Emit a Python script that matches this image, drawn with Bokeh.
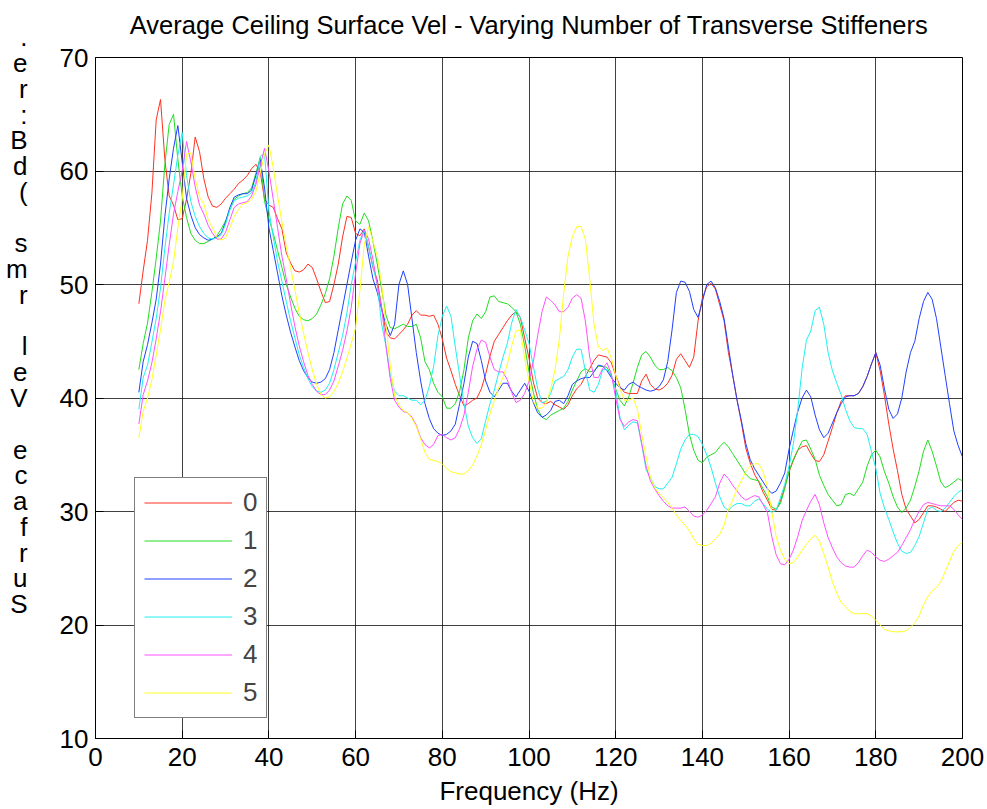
from bokeh.plotting import figure
from bokeh.models import Range1d, FixedTicker
from bokeh.embed import file_html
from bokeh.resources import INLINE

freq = list(range(10, 201))

# 0 stiffeners (red)
v0 = [48.3, 51.2, 53.9, 58.0, 64.5, 66.3, 61.0, 57.8, 57.0, 55.7,
      55.8, 57.5, 59.8, 63.0, 61.7, 59.3, 57.7, 56.9, 56.8, 57.1,
      57.6, 58.0, 58.4, 58.9, 59.2, 59.6, 60.2, 60.6, 59.9, 57.5,
      57.0, 56.8, 55.8, 54.9, 52.8, 51.9, 51.2, 51.1, 51.3, 51.8,
      51.5, 50.5, 49.4, 48.4, 48.5, 50.0, 51.8, 54.2, 56.0, 55.9,
      54.5, 54.3, 54.9, 53.3, 51.5, 50.4, 48.0, 45.8, 45.3, 45.2,
      45.6, 46.0, 46.5, 47.3, 47.7, 47.3, 47.3, 47.2, 47.3, 46.5,
      45.2, 43.5, 42.4, 41.2, 40.2, 39.3, 39.5, 39.8, 40.0, 40.8,
      42.1, 43.7, 45.0, 45.6, 46.2, 46.8, 47.3, 47.6, 47.1, 45.3,
      43.5, 41.4, 40.0, 39.6, 39.5, 39.7, 39.4, 39.2, 39.0, 39.4,
      40.2, 40.8, 41.2, 41.9, 42.6, 43.3, 43.8, 43.7, 43.6, 43.1,
      42.0, 41.0, 40.5, 40.4, 40.4, 40.4, 41.5, 42.1, 41.2, 40.8,
      40.7, 40.9, 41.3, 42.0, 43.4, 43.9, 43.3, 42.7, 43.6, 46.8,
      48.8, 49.8, 50.1, 49.6, 48.2, 46.8, 44.0, 42.0, 39.8, 37.8,
      35.6, 34.3, 33.3, 32.6, 31.7, 31.0, 30.2, 30.1, 30.9, 32.2,
      33.5, 34.5, 35.4, 35.7, 35.8, 35.1, 34.5, 34.4, 35.0, 36.2,
      37.4, 38.7, 39.7, 40.2, 40.2, 40.2, 40.4, 41.0, 41.9, 43.0,
      44.0, 42.4, 40.2, 37.7, 35.5, 33.6, 31.5, 30.2, 29.6, 29.0,
      29.3, 29.9, 30.5, 30.5, 30.4, 30.2, 30.0, 30.4, 30.8, 31.0,
      30.9]

# 1 stiffener (green)
v1 = [42.5, 44.8, 46.6, 49.3, 52.3, 55.6, 60.6, 64.1, 65.0, 61.0,
      57.8, 55.9, 54.5, 53.9, 53.6, 53.6, 53.8, 54.0, 54.3, 54.9,
      55.6, 56.6, 57.5, 57.8, 58.0, 58.1, 58.5, 59.8, 61.2, 57.3,
      55.8, 54.5, 53.0, 51.5, 50.0, 48.9, 47.9, 47.2, 46.9, 46.8,
      47.0, 47.4, 48.2, 49.2, 50.5, 52.5, 55.0, 57.1, 57.8, 57.4,
      55.6, 55.3, 56.3, 55.6, 53.8, 51.8, 49.6, 47.3, 46.2, 46.1,
      46.3, 46.5, 46.3, 46.3, 46.5, 45.3, 43.2, 42.5, 41.3, 40.5,
      40.1, 39.1, 39.1, 39.5, 40.6, 42.5, 45.3, 46.8, 47.4, 47.0,
      47.6, 48.9, 49.0, 48.5, 48.4, 48.3, 48.0, 47.6, 46.5, 44.6,
      42.3, 40.5, 39.0, 38.3, 38.1, 38.5, 38.7, 38.9, 39.1, 39.7,
      40.7, 41.5, 42.3, 42.6, 42.3, 42.4, 42.8, 42.8, 42.7, 41.9,
      40.8, 39.8, 39.3, 40.1, 41.3, 42.7, 43.8, 44.1, 43.6, 42.9,
      42.5, 42.5, 42.7, 42.4, 41.8, 40.9, 39.0, 36.8, 35.4, 34.5,
      34.3, 34.8, 35.0, 35.2, 35.7, 36.1, 35.7, 35.1, 34.5, 33.9,
      33.3, 32.9, 32.8, 32.7, 32.0, 31.3, 30.4, 30.2, 30.7, 32.0,
      33.6, 34.6, 35.4, 36.2, 36.3, 35.5, 34.6, 33.2, 32.3, 31.5,
      31.0, 30.5, 30.6, 31.5, 31.6, 31.4, 32.0, 32.6, 34.0, 35.0,
      35.4, 34.8, 33.5, 32.5, 31.3, 30.4, 29.9, 30.3, 31.0, 32.2,
      33.6, 35.3, 36.3, 35.3, 34.0, 32.6, 32.1, 32.3, 32.6, 32.9,
      32.7]

# 2 stiffeners (blue)
v2 = [40.5, 43.2, 44.7, 46.6, 48.7, 51.8, 56.0, 59.3, 62.0, 64.0,
      60.8, 57.6, 56.1, 55.0, 54.4, 54.1, 53.9, 54.0, 54.2, 54.5,
      55.5, 56.8, 57.7, 57.9, 58.0, 58.0, 58.3, 59.6, 61.0, 58.5,
      55.0, 53.0, 51.0, 49.0, 47.3, 45.8, 44.5, 43.3, 42.4, 41.8,
      41.4, 41.3, 41.4, 41.7, 42.5, 44.0, 46.0, 48.0, 50.0, 52.0,
      53.9, 54.9, 54.6, 52.5, 50.5, 49.3, 47.8, 46.5, 45.5, 46.5,
      50.0, 51.2, 50.0, 47.0, 44.0, 41.5, 39.5, 38.2, 37.3, 36.9,
      36.7, 36.8, 37.1, 37.7, 39.5, 41.3, 43.6, 45.0, 44.8, 43.3,
      41.5, 40.5, 40.1, 40.7, 41.3, 41.3, 40.6, 40.1, 40.7, 41.3,
      40.6, 39.6, 38.7, 38.3, 38.5, 38.9, 39.7, 39.8, 39.5, 40.2,
      41.2, 41.5, 41.7, 41.8, 41.8, 42.3, 42.9, 42.8, 42.4, 41.8,
      41.3, 40.9, 40.7, 41.2, 41.4, 41.1, 40.9, 40.7, 40.6, 40.7,
      41.0, 41.6, 43.2, 46.0, 49.3, 50.3, 50.2, 49.4, 47.8, 47.1,
      48.5, 50.0, 50.3, 49.7, 48.5, 47.0, 44.5, 42.0, 39.8, 38.0,
      36.0, 34.6, 33.8, 33.2, 32.6, 32.0, 31.6, 31.8, 32.5, 33.4,
      35.5, 37.2, 38.8, 40.0, 40.7, 40.1, 38.5, 37.2, 36.5, 36.9,
      37.8, 38.7, 39.5, 40.1, 40.2, 40.2, 40.4, 41.0, 41.9, 43.0,
      44.0, 42.9, 40.8, 39.0, 38.2, 38.6, 40.0, 42.3, 44.0, 45.0,
      47.0, 48.5, 49.3, 48.7, 47.0, 44.5, 42.0, 39.5, 37.1, 35.8,
      34.8]

# 3 stiffeners (cyan)
v3 = [39.0, 41.8, 42.9, 44.9, 47.0, 49.7, 53.2, 56.3, 58.8, 61.4,
      63.4, 59.6, 57.3, 56.0, 55.1, 54.5, 54.1, 54.0, 54.1, 54.4,
      55.3, 56.6, 57.4, 57.6, 57.7, 57.8, 58.1, 59.0, 61.3, 61.5,
      56.5, 54.2, 52.0, 50.3, 48.5, 46.8, 45.3, 43.8, 42.7, 41.7,
      41.0, 40.6, 40.5, 40.7, 41.3, 42.5, 44.0, 45.5, 47.5, 50.0,
      52.0, 53.9, 54.8, 53.3, 51.6, 50.0, 46.5, 44.6, 42.0, 40.6,
      40.2, 40.2, 40.0, 39.8, 39.8, 39.4, 39.8, 41.0, 42.8, 45.5,
      47.2, 48.1, 47.2, 44.5, 42.0, 39.5, 37.5, 36.5, 36.0, 36.4,
      38.0, 39.5, 40.7, 42.2, 43.6, 44.8, 46.6, 47.8, 47.1, 46.0,
      44.8, 42.8, 40.8, 39.6, 39.7, 40.4, 41.5, 41.7, 41.9, 42.5,
      43.6, 44.3, 44.3, 42.4, 40.7, 40.5, 41.2, 42.5, 42.5, 42.0,
      40.7, 38.3, 37.2, 37.6, 37.9, 37.8, 35.9, 33.7, 33.0, 32.2,
      32.0, 32.0, 32.5, 33.0, 34.2, 35.5, 36.3, 36.8, 36.8, 36.6,
      35.9, 35.0, 33.9, 32.5, 31.3, 30.4, 30.1, 30.5, 30.7, 30.7,
      30.5, 30.5, 30.9, 31.1, 30.7, 30.2, 29.9, 30.1, 31.2, 32.4,
      34.0, 36.0, 39.0, 42.6, 45.1, 45.9, 47.7, 48.0, 46.5, 44.0,
      42.4, 41.3, 40.3, 39.0, 38.0, 37.4, 37.3, 37.3, 36.8, 35.3,
      33.8, 31.6, 30.3, 29.3, 28.2, 27.2, 26.5, 26.3, 26.4, 27.0,
      27.8, 29.0, 30.2, 30.4, 30.1, 30.0, 30.3, 30.8, 31.3, 31.7,
      31.9]

# 4 stiffeners (magenta)
v4 = [37.7, 40.3, 41.5, 43.1, 45.2, 47.6, 50.5, 53.5, 56.2, 58.2,
      60.0, 62.6, 60.8, 58.6, 57.0, 56.2, 55.2, 54.5, 54.0, 54.0,
      54.6, 55.7, 56.8, 57.1, 57.2, 57.3, 57.8, 58.8, 60.5, 62.0,
      60.0, 57.5, 55.0, 52.5, 50.5, 48.3, 46.3, 44.6, 43.2, 42.0,
      41.2, 40.6, 40.3, 40.3, 40.7, 41.5, 42.8, 44.2, 45.9, 48.0,
      51.0, 53.6, 54.8, 54.0, 52.2, 50.0, 48.0, 44.6, 41.7, 39.8,
      39.2, 38.8, 38.7, 38.3, 37.6, 36.5, 35.9, 35.6, 35.9, 36.7,
      36.8, 36.5, 36.3, 36.5, 37.3, 38.5, 40.5, 42.8, 44.3, 45.1,
      44.9, 43.6, 42.5, 42.3, 42.3, 41.6, 40.5, 39.6, 39.8, 40.4,
      41.5, 43.2, 45.5, 47.6, 48.9, 48.6, 48.2, 47.6, 47.6, 48.0,
      48.8, 49.1, 48.8, 46.8, 43.6, 41.8, 41.8, 42.6, 43.1, 42.1,
      40.0, 38.1, 37.5, 37.9, 38.1, 38.0, 36.0, 34.0, 32.7, 32.0,
      31.4, 30.9, 30.5, 30.3, 30.3, 30.3, 30.4, 30.0, 29.6, 29.5,
      29.7, 30.1, 30.7, 31.3, 32.5, 33.3, 32.9, 32.3, 31.8, 31.3,
      31.0, 31.2, 31.4, 31.3, 30.6, 29.9, 27.8, 26.2, 25.4, 25.3,
      25.8, 26.6, 27.8, 29.2, 30.1, 30.9, 31.5, 30.6, 29.0, 27.7,
      26.8, 26.0, 25.5, 25.2, 25.1, 25.1, 25.5, 26.1, 26.6, 26.4,
      26.0, 25.7, 25.6, 25.8, 26.1, 26.4, 27.0, 27.7, 28.4, 29.3,
      30.0, 30.6, 30.8, 30.7, 30.6, 30.5, 30.5, 30.5, 30.2, 29.7,
      29.3]

# 5 stiffeners (yellow)
v5 = [36.5, 38.8, 40.0, 41.6, 43.8, 46.0, 48.6, 50.2, 52.0, 55.0,
      57.6, 61.5, 61.6, 59.3, 57.7, 57.1, 55.7, 55.0, 54.2, 53.9,
      54.1, 55.0, 56.0, 56.6, 57.1, 57.2, 57.5, 58.2, 59.8, 61.5,
      62.3, 60.3, 57.8, 55.5, 53.3, 51.5, 49.5, 47.5, 45.7, 44.0,
      42.5, 41.2, 40.3, 40.0, 40.1, 40.6, 41.3, 42.3, 43.5, 44.8,
      46.2, 49.5, 53.5, 55.1, 53.8, 52.5, 50.0, 46.5, 42.8, 40.2,
      39.4, 38.9, 38.7, 38.2, 37.5, 36.4, 35.2, 34.6, 34.5, 34.4,
      34.2, 33.8, 33.5, 33.4, 33.3, 33.3, 33.6, 34.1, 34.9, 35.9,
      37.2, 38.6, 39.8, 40.9, 41.8, 43.0, 44.6, 45.9, 46.0, 43.5,
      41.5, 39.7, 39.1, 39.1, 39.6, 40.8, 42.5, 45.2, 49.2, 52.5,
      54.2, 55.1, 55.1, 54.0, 50.5, 46.5, 44.5, 44.2, 44.4, 43.5,
      42.0, 40.8, 39.8, 39.8, 40.0, 39.0, 36.8, 34.8, 33.0, 32.1,
      31.6, 31.2, 30.8, 30.3, 29.7, 29.2, 28.8, 28.3, 27.6, 27.1,
      27.0, 27.0, 27.2, 27.6, 28.0, 28.8, 30.2, 31.0, 32.0, 32.7,
      33.5, 34.0, 34.2, 34.2, 33.5, 32.2, 30.0, 27.8, 26.6, 25.8,
      25.4, 25.5, 26.0, 26.6, 27.1, 27.6, 27.9, 27.4, 26.3, 25.1,
      23.8, 22.8, 22.0, 21.6, 21.2, 21.0, 21.0, 21.0, 21.0, 20.8,
      20.4, 20.0, 19.6, 19.5, 19.4, 19.4, 19.4, 19.5, 19.8, 20.2,
      20.8, 21.8, 22.5, 23.0, 23.3, 23.8, 24.7, 25.6, 26.5, 27.0,
      27.3]

series = [v0, v1, v2, v3, v4, v5]
series_names = ["0", "1", "2", "3", "4", "5"]
colors = ["#ff3020", "#20dd20", "#2040ff", "#20f0f0", "#ff50ff", "#ffff20"]

x_ticks = list(range(0, 201, 20))
y_ticks = list(range(10, 71, 10))
title_text = "Average Ceiling Surface Vel - Varying Number of Transverse Stiffeners"
xlabel_text = "Frequency (Hz)"
ylabel_text = "Surface Vel rms (dB:re."   # shown reversed & stacked, as in the original

FONT = "Liberation Sans"
SHIFT = 8  # canvas is drawn SHIFT px taller and pulled up by a negative top margin

p = figure(width=987, height=809 + SHIFT, output_backend="svg", toolbar_location=None,
           x_range=Range1d(0, 200), y_range=Range1d(10, 70),
           min_border_left=95, min_border_right=25, min_border_top=57 + SHIFT,
           min_border_bottom=71,
           background_fill_color="white", border_fill_color="white")
try:
    p.margin = (-SHIFT, 0, 0, 0)
except Exception:
    pass

p.outline_line_color = "black"
p.outline_line_width = 1
p.outline_line_alpha = 1

# title
p.title.text = title_text
p.title.align = "center"
p.title.vertical_align = "top"
p.title.text_font = FONT
p.title.text_font_size = "25.5px"
p.title.text_font_style = "normal"
p.title.text_color = "black"
p.title.standoff = 33

for ax in (p.xaxis[0], p.yaxis[0]):
    ax.axis_line_color = "black"
    ax.major_tick_line_color = "black"
    ax.major_tick_in = 8
    ax.major_tick_out = 0
    ax.minor_tick_line_color = None
    ax.major_label_text_font = FONT
    ax.major_label_text_font_size = "26px"
    ax.major_label_text_color = "black"

p.xaxis.ticker = FixedTicker(ticks=x_ticks)
p.yaxis.ticker = FixedTicker(ticks=y_ticks)
p.xaxis.major_label_standoff = 9
p.yaxis.major_label_standoff = 7

p.xaxis.axis_label = xlabel_text
p.xaxis.axis_label_text_font = FONT
p.xaxis.axis_label_text_font_size = "26px"
p.xaxis.axis_label_text_font_style = "normal"
p.xaxis.axis_label_text_color = "black"
p.xaxis.axis_label_standoff = 7

# y label: characters reversed and stacked vertically (as in the reference)
ychars = [c if c != " " else "" for c in reversed(ylabel_text)]
p.yaxis.axis_label = "\n".join(ychars + [""] * 6)
p.yaxis.axis_label_orientation = "horizontal"
p.yaxis.axis_label_text_font = FONT
p.yaxis.axis_label_text_font_size = "26px"
p.yaxis.axis_label_text_font_style = "normal"
p.yaxis.axis_label_text_color = "black"
p.yaxis.axis_label_text_line_height = 0.859
p.yaxis.axis_label_text_align = "center"
p.yaxis.axis_label_standoff = 29

p.xgrid.grid_line_color = "black"
p.ygrid.grid_line_color = "black"
p.xgrid.grid_line_alpha = 0.75
p.ygrid.grid_line_alpha = 0.75

for vals, name, col in zip(series, series_names, colors):
    p.line(freq, vals, line_color=col, line_width=1, legend_label=name)

lg = p.legend[0]
lg.location = (39, 20)
lg.border_line_color = "black"
lg.border_line_width = 1
lg.background_fill_alpha = 1
lg.padding = 9
lg.spacing = 7
lg.margin = 0
lg.glyph_width = 88
lg.glyph_height = 27
lg.label_height = 27
lg.label_width = 13
lg.label_standoff = 11
lg.label_text_font = FONT
lg.label_text_font_size = "26px"

open("out.html", "w").write(file_html(p, INLINE))
